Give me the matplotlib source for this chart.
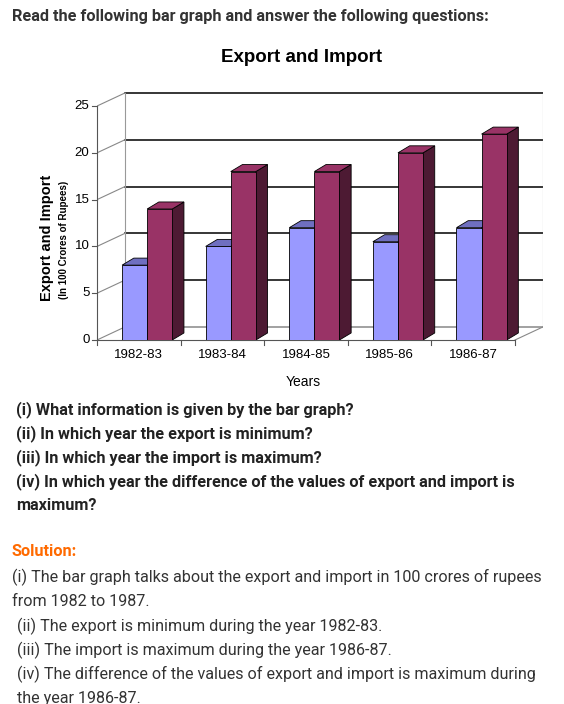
import matplotlib
matplotlib.use("Agg")
import matplotlib.pyplot as plt
from matplotlib.patches import Polygon

years = ["1982-83", "1983-84", "1984-85", "1985-86", "1986-87"]
export = [8, 10, 12, 10.5, 12]
imports = [14, 18, 18, 20, 22]
yticks = [0, 5, 10, 15, 20, 25]

W, H = 564, 704
fig = plt.figure(figsize=(W/100, H/100), dpi=100)
plt.rcParams['font.family'] = ['Roboto', 'DejaVu Sans']

def ft(x, y, s, **kw):
    fig.text(x/W, 1 - y/H, s, va='center', **kw)

ft(12, 17, "Read the following bar graph and answer the following questions:", fontsize=11.7, weight='bold', color='#333333')
ft(302, 58, "Export and Import", fontsize=13.5, ha='center', color='black', weight='bold', family=['Liberation Sans'])

ax = fig.add_axes([97/W, (704-340)/H, (543-97)/W, (340-92)/H])
ax.set_xlim(0, 5 + 0.335)
ax.set_ylim(0, 26.5)
ax.axis('off')
dx, dy = 0.335, 1.4
for t in yticks:
    ax.plot([dx, 5 + dx], [t + dy, t + dy], color='black' if t else '#888888', lw=1.1, zorder=1)
    ax.plot([0, dx], [t, t + dy], color='#888888', lw=0.8, zorder=1)
ax.plot([dx, dx], [dy, 25 + dy], color='#999999', lw=0.8)
ax.plot([5 + dx, 5 + dx], [dy, 25 + dy], color='#999999', lw=0.8)
ax.plot([5, 5 + dx], [0, dy], color='#888888', lw=0.8)
ax.plot([0, 0], [0, 25], color='#555555', lw=0.8, clip_on=False)
ax.plot([0, 5], [0, 0], color='#555555', lw=0.8, clip_on=False)
for t in yticks:
    ax.plot([-0.06, 0], [t, t], color='#555555', lw=0.8, clip_on=False)
    ax.text(-0.09, t, str(t), ha='right', va='center', fontsize=9.5, family=['Liberation Sans'])
for i in range(6):
    ax.plot([i, i], [0, -0.5], color='#555555', lw=0.8, clip_on=False)

bw, bdx, bdy = 0.3, 0.14, 0.75
def bar3d(x0, h, front, top, side, z):
    ax.add_patch(Polygon([(x0 + bw, 0), (x0 + bw + bdx, bdy), (x0 + bw + bdx, h + bdy), (x0 + bw, h)], fc=side, ec='black', lw=0.6, zorder=z))
    ax.add_patch(Polygon([(x0, h), (x0 + bw, h), (x0 + bw + bdx, h + bdy), (x0 + bdx, h + bdy)], fc=top, ec='black', lw=0.6, zorder=z))
    ax.add_patch(Polygon([(x0, 0), (x0 + bw, 0), (x0 + bw, h), (x0, h)], fc=front, ec='black', lw=0.6, zorder=z + 0.1))

for i, y in enumerate(years):
    bar3d(i + 0.3, export[i], '#9999ff', '#6f6fc0', '#4d4d80', 3)
    bar3d(i + 0.6, imports[i], '#993366', '#993366', '#4d1a33', 4)
    ax.text(i + 0.5, -1.6, y, ha='center', va='center', fontsize=9.5, family=['Liberation Sans'])

ft(303, 382, "Years", fontsize=10, ha='center', family=['Liberation Sans'])
fig.text(47/W, 1 - 238/H, "Export and Import", rotation=90, ha='center', va='center', fontsize=10.5, weight='bold', family=['Liberation Sans'])
fig.text(64/W, 1 - 240/H, "(In 100 Crores of Rupees)", rotation=90, ha='center', va='center', fontsize=7, weight='bold', family=['Liberation Sans'])

qs = [(410, "(i) What information is given by the bar graph?"),
      (434, "(ii) In which year the export is minimum?"),
      (458, "(iii) In which year the import is maximum?"),
      (482, "(iv) In which year the difference of the values of export and import is"),
      (506, "maximum?")]
for y, s in qs:
    ft(16, y, s, fontsize=11.7, weight='bold', color='#222222')
ft(12, 552, "Solution:", fontsize=11.7, weight='bold', color='#ff6a00')
sol = [(12, 577, "(i) The bar graph talks about the export and import in 100 crores of rupees"),
       (12, 601, "from 1982 to 1987."),
       (17, 626, "(ii) The export is minimum during the year 1982-83."),
       (17, 650, "(iii) The import is maximum during the year 1986-87."),
       (17, 674, "(iv) The difference of the values of export and import is maximum during"),
       (17, 698, "the year 1986-87.")]
for x, y, s in sol:
    ft(x, y, s, fontsize=11.6, color='#333333')

fig.savefig("out.png", dpi=100)
